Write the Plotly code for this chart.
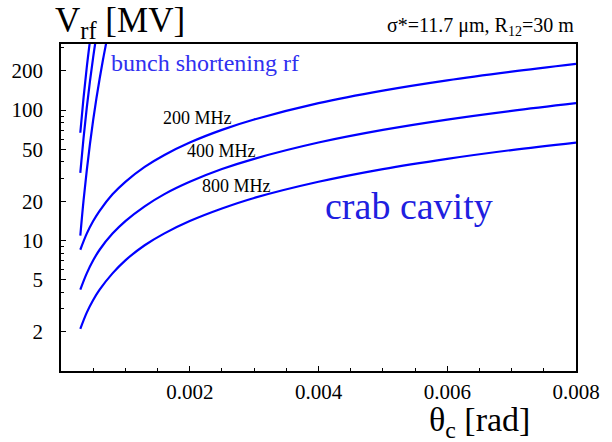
import plotly.graph_objects as go

# ---- data ----
theta_crab = [0.0003, 0.0004, 0.0005, 0.0006, 0.0008, 0.001, 0.0013, 0.0016,
              0.002, 0.0025, 0.003, 0.004, 0.005, 0.006, 0.007, 0.008]
v_crab_800 = [2.1, 2.8, 3.5, 4.2, 5.6, 7.05, 9.2, 11.3, 14.1, 17.6, 21.2, 28.2, 35.3, 42.3, 49.4, 56.4]
v_crab_400 = [4.2, 5.6, 7.05, 8.5, 11.3, 14.1, 18.3, 22.6, 28.2, 35.3, 42.3, 56.4, 70.5, 84.6, 98.7, 113]
v_crab_200 = [8.5, 11.3, 14.1, 16.9, 22.6, 28.2, 36.7, 45.1, 56.4, 70.5, 84.6, 113, 141, 169, 197, 226]

theta_bs1 = [0.0003, 0.00035, 0.0004, 0.00045, 0.0005, 0.00055, 0.0006, 0.00065, 0.0007, 0.00072]
v_bs1 = [10.9, 20.2, 34.4, 55, 84, 123, 174, 240, 323, 362]
theta_bs2 = [0.0003, 0.00035, 0.0004, 0.00045, 0.0005, 0.00055]
v_bs2 = [33, 61, 104, 167, 255, 373]
theta_bs3 = [0.0003, 0.00035, 0.0004, 0.00045]
v_bs3 = [67, 124, 212, 339]

x_tickvals = [0.002, 0.004, 0.006, 0.008]
x_ticktext = ["0.002", "0.004", "0.006", "0.008"]
y_tickvals = [2, 5, 10, 20, 50, 100, 200]
y_ticktext = ["2", "5", "10", "20", "50", "100", "200"]
y_minorvals = [3, 4, 6, 7, 8, 9, 30, 40, 60, 70, 80, 90, 300]

FONT = '"Liberation Serif", "Times New Roman", Times, "DejaVu Serif", serif'
LINE = dict(color="#0000ff", width=2.2, shape="spline")

fig = go.Figure()
for xs, ys in [(theta_crab, v_crab_800), (theta_crab, v_crab_400), (theta_crab, v_crab_200),
               (theta_bs1, v_bs1), (theta_bs2, v_bs2), (theta_bs3, v_bs3)]:
    fig.add_trace(go.Scatter(x=xs, y=ys, mode="lines", line=LINE, showlegend=False,
                             hoverinfo="skip"))

fig.update_layout(
    width=612, height=442,
    margin=dict(l=58, r=25, t=44, b=71),
    paper_bgcolor="white", plot_bgcolor="white",
    font=dict(family=FONT, color="black"),
    xaxis=dict(range=[0, 0.008], tickvals=x_tickvals, ticktext=x_ticktext,
               ticks="inside", ticklen=5, tickwidth=1, tickcolor="black",
               showline=True, linecolor="black", linewidth=1.5, mirror=True,
               showgrid=False, zeroline=False, tickfont=dict(size=21, family=FONT),
               ticklabelstandoff=1,
               minor=dict(dtick=0.0005, tick0=0, ticks="inside", ticklen=3,
                          tickcolor="black", showgrid=False)),
    yaxis=dict(type="log", range=[0, 2.5065], tickvals=y_tickvals, ticktext=y_ticktext,
               ticks="inside", ticklen=5, tickwidth=1, tickcolor="black",
               showline=True, linecolor="black", linewidth=1.5, mirror=True,
               showgrid=False, zeroline=False, tickfont=dict(size=21, family=FONT),
               ticklabelstandoff=12,
               minor=dict(tickvals=y_minorvals, ticks="inside", ticklen=3,
                          tickcolor="black", showgrid=False)),
)

def ann(text, x, y, size, color="black", xanchor="left", yanchor="middle"):
    fig.add_annotation(text=text, x=x, y=y, xref="paper", yref="paper",
                       xanchor=xanchor, yanchor=yanchor, showarrow=False,
                       borderpad=0,
                       font=dict(family=FONT, size=size, color=color))

ann("V<sub>rf</sub> [MV]", -0.013, 1.067, 35)
ann("σ*=11.7 μm, R<sub>12</sub>=30 m", 0.999, 1.052, 20, xanchor="right")
ann("θ<sub>c</sub> [rad]", 0.712, -0.156, 34)
ann("bunch shortening rf", 0.096, 0.942, 24, color="#3030f0")
ann("200 MHz", 0.197, 0.774, 18)
ann("400 MHz", 0.242, 0.673, 18)
ann("800 MHz", 0.271, 0.566, 18)
ann("crab cavity", 0.511, 0.505, 38, color="#2020e0")

fig.write_html("out.html")
